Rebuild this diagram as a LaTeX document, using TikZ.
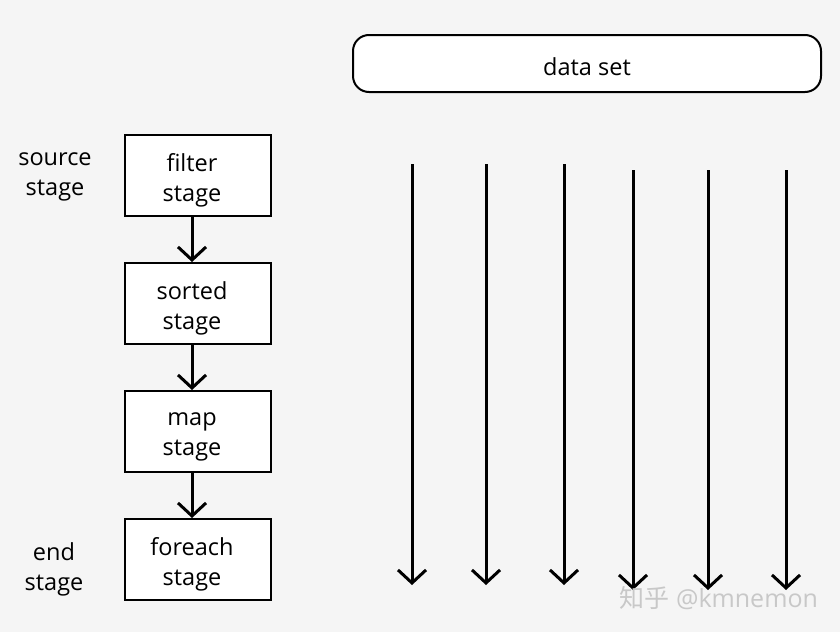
\documentclass[tikz,border=0pt]{standalone}
\usepackage{fontspec}
\setmainfont{Open Sans}
\newfontfamily\cjk{Noto Sans CJK SC}
\usetikzlibrary{arrows.meta}
\definecolor{bggray}{HTML}{F5F5F5}
\definecolor{markgray}{HTML}{C8C8C8}

\begin{document}
\begin{tikzpicture}[x=1pt, y=-1pt]
    \tikzset{stagebox/.style = {draw, fill=white, line width=2pt, minimum width=146pt, minimum height=81pt}}
    \tikzset{stagetext/.style = {align=center, xshift=-6pt, yshift=-5pt, font=\fontsize{23.5}{30}\selectfont}}
    \tikzset{flow/.style = {line width=3pt, -{Straight Barb[length=13pt, width=28pt, line width=3pt]}}}
    \tikzset{side/.style = {align=center, font=\fontsize{23.5}{30}\selectfont}}

    % background
    \fill[bggray] (0,0) rectangle (840,632);
    \useasboundingbox (0,0) rectangle (840,632);

    % data set
    \node[draw, fill=white, line width=2pt, rounded corners=16pt, minimum width=468pt, minimum height=57pt, label={[yshift=-3pt, font=\fontsize{23.5}{30}\selectfont]center:data set}] (data) at (587,63.5) {};

    % stages
    \node[stagebox, label={[stagetext]center:filter\\stage}] (filter) at (198,175.5) {};
    \node[stagebox, label={[stagetext]center:sorted\\stage}] (sorted) at (198,303.5) {};
    \node[stagebox, label={[stagetext]center:map\\stage}] (map) at (198,431.5) {};
    \node[stagebox, label={[stagetext]center:foreach\\stage}] (foreach) at (198,559.5) {};

    \node[side] (source) at (55,176.5) {source\\stage};
    \node[side] (end) at (54,569.5) {end\\stage};

    \draw[flow] ([xshift=-6pt]filter.south) -- ([xshift=-6pt]sorted.north);
    \draw[flow] ([xshift=-6pt]sorted.south) -- ([xshift=-6pt]map.north);
    \draw[flow] ([xshift=-6pt]map.south) -- ([xshift=-6pt]foreach.north);

    % data streams
    \foreach \x/\t/\b [count=\i] in {412/164/585, 486/164/585, 564/164/585, 633/170/590, 708/170/590, 786/170/590} {
        \coordinate (top\i) at (\x,\t);
        \coordinate (bot\i) at (\x,\b);
        \draw[flow] (top\i) -- (bot\i);
    }

    % watermark
    \node[text=markgray, anchor=west, font=\fontsize{25}{30}\selectfont] (mark) at (616,598) {{\cjk 知乎} @kmnemon};
\end{tikzpicture}
\end{document}
